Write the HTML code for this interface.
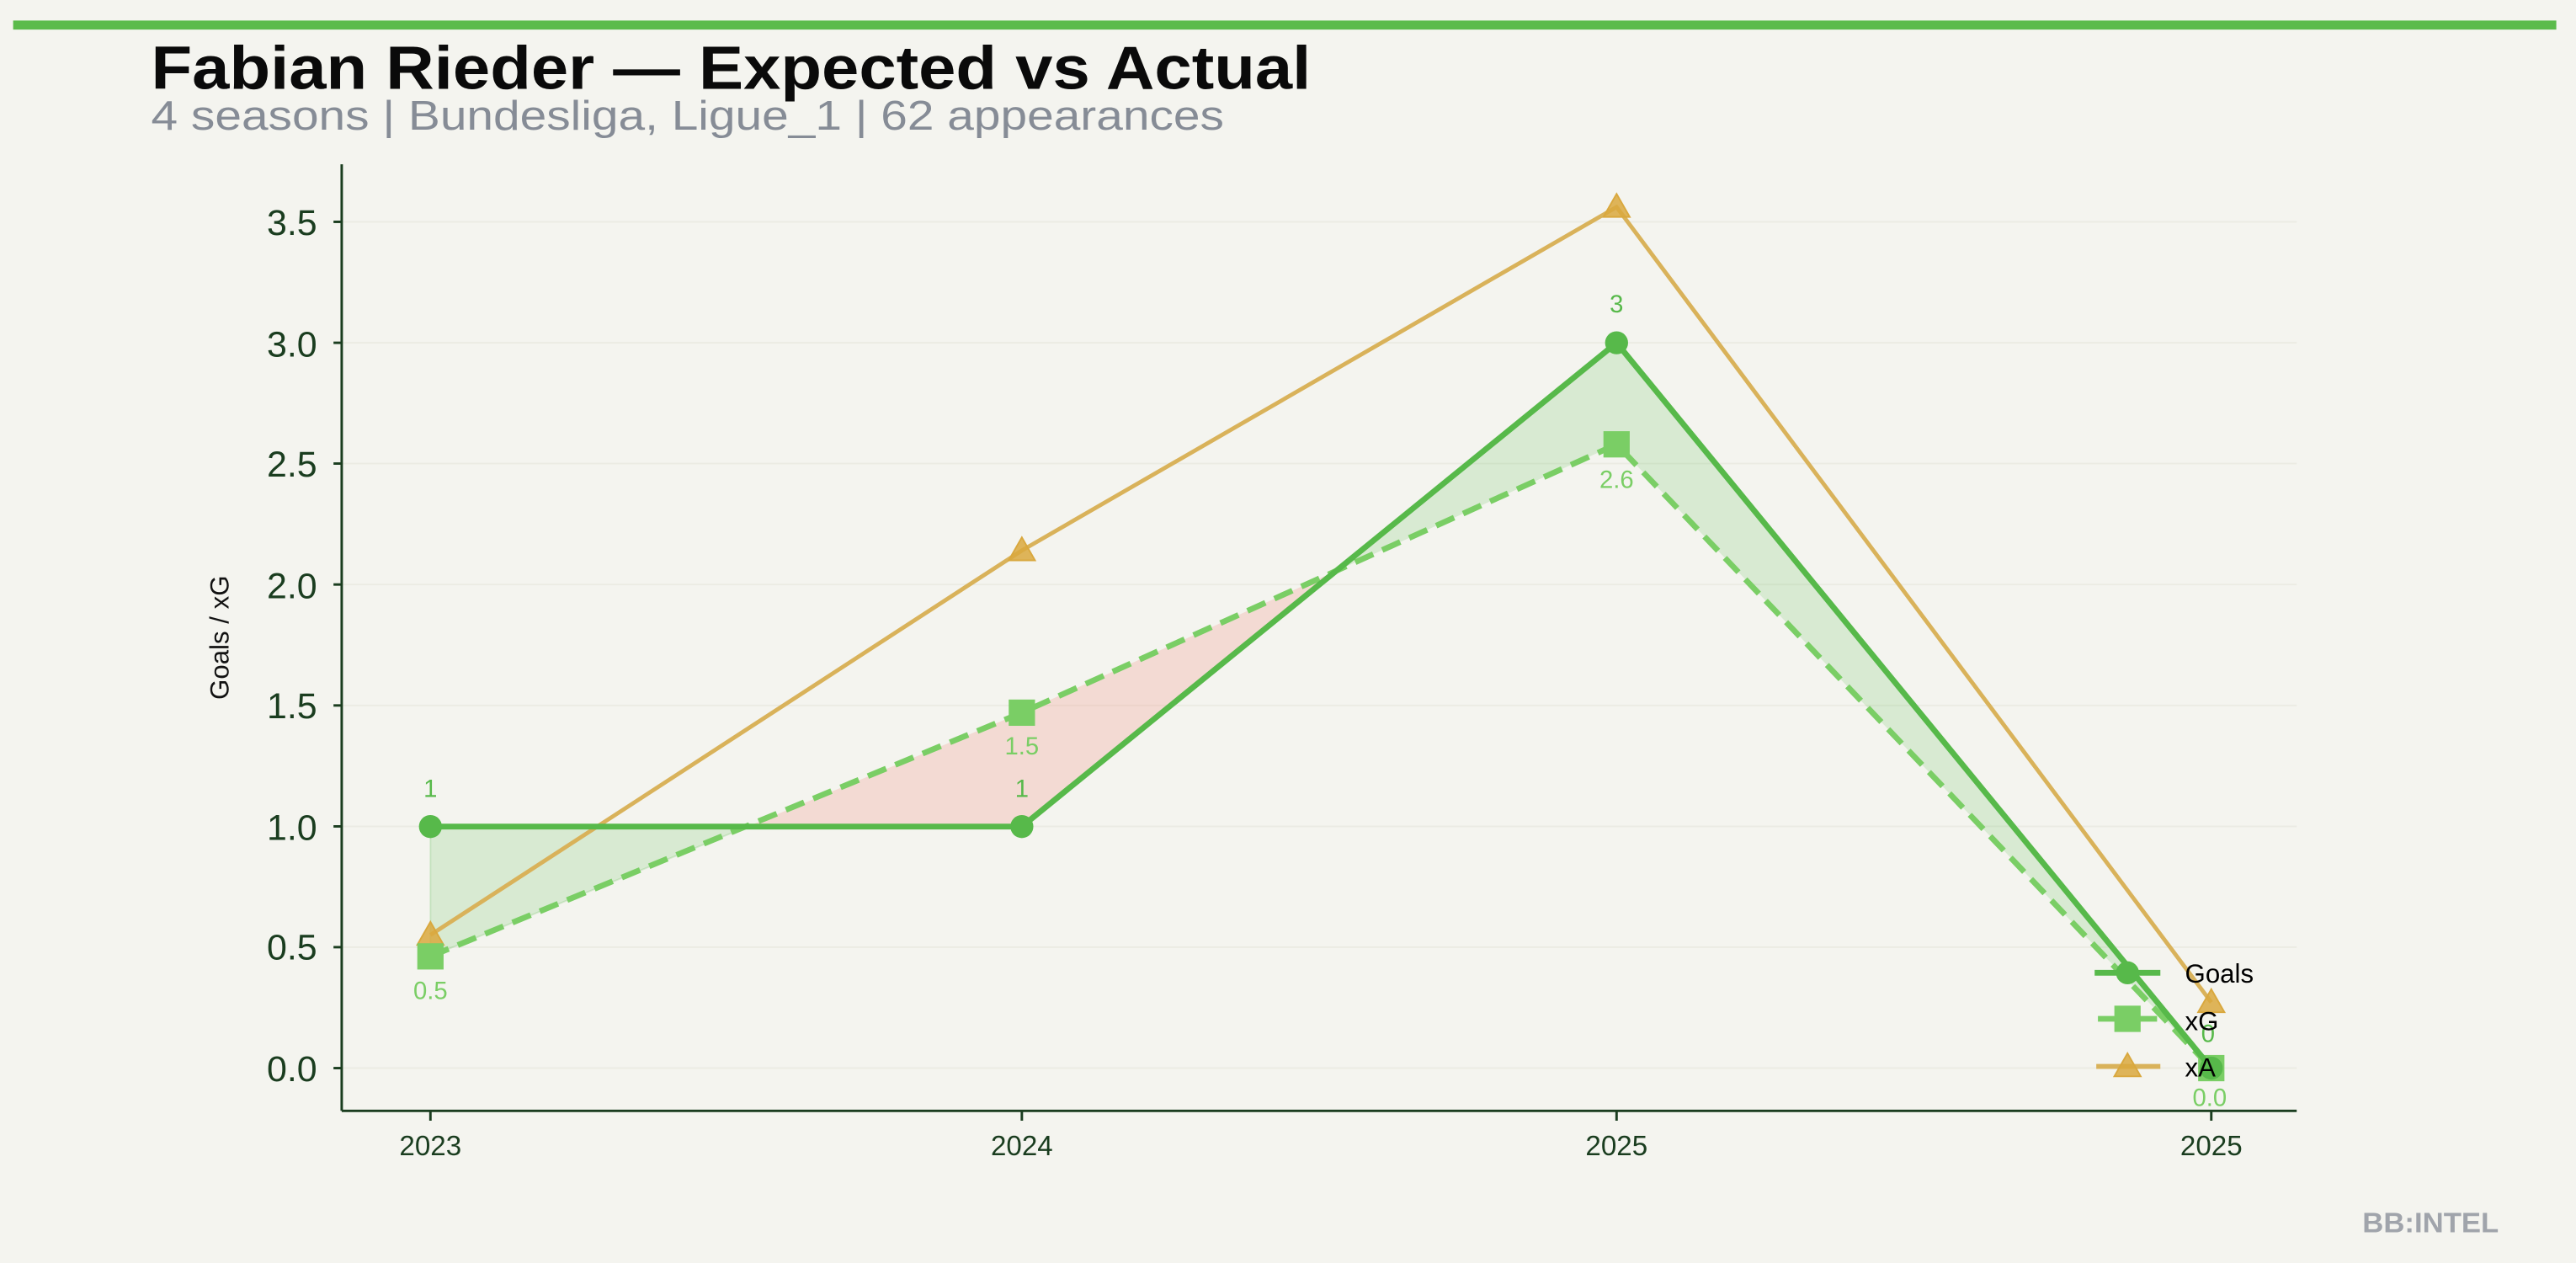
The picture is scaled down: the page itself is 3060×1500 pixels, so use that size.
<!DOCTYPE html>
<html><head><meta charset="utf-8"><style>
html,body{margin:0;padding:0;background:#f4f4ef;}
svg{display:block;}
</style></head><body>
<svg width="3060" height="1500" viewBox="0 0 1568 768.6" preserveAspectRatio="none" xmlns="http://www.w3.org/2000/svg" font-family="Liberation Sans, sans-serif">
<rect x="0" y="0" width="1568" height="768.6" fill="#f4f4ef"/>
<rect x="8" y="12.5" width="1548" height="5.5" fill="#5bbb4b"/>
<text x="92" y="54" font-size="37" font-weight="bold" fill="#0a0a0a" textLength="706" lengthAdjust="spacingAndGlyphs">Fabian Rieder — Expected vs Actual</text>
<text x="92" y="79" font-size="25" fill="#868c96" textLength="653" lengthAdjust="spacingAndGlyphs">4 seasons | Bundesliga, Ligue_1 | 62 appearances</text>
<!-- gridlines -->
<g stroke="#ebebe3" stroke-width="1">
<line x1="208" x2="1398" y1="650" y2="650"/><line x1="208" x2="1398" y1="576.4" y2="576.4"/>
<line x1="208" x2="1398" y1="502.9" y2="502.9"/><line x1="208" x2="1398" y1="429.3" y2="429.3"/>
<line x1="208" x2="1398" y1="355.7" y2="355.7"/><line x1="208" x2="1398" y1="282.1" y2="282.1"/>
<line x1="208" x2="1398" y1="208.6" y2="208.6"/><line x1="208" x2="1398" y1="135" y2="135"/>
</g>
<!-- axes -->
<g stroke="#1a3d1f" stroke-width="1.5">
<line x1="208" y1="100" x2="208" y2="676"/><line x1="208" y1="676" x2="1398" y2="676"/>
<line x1="203" x2="208" y1="650" y2="650"/><line x1="203" x2="208" y1="576.4" y2="576.4"/>
<line x1="203" x2="208" y1="502.9" y2="502.9"/><line x1="203" x2="208" y1="429.3" y2="429.3"/>
<line x1="203" x2="208" y1="355.7" y2="355.7"/><line x1="203" x2="208" y1="282.1" y2="282.1"/>
<line x1="203" x2="208" y1="208.6" y2="208.6"/><line x1="203" x2="208" y1="135" y2="135"/>
<line x1="262" x2="262" y1="676" y2="682"/><line x1="622" x2="622" y1="676" y2="682"/>
<line x1="984" x2="984" y1="676" y2="682"/><line x1="1346" x2="1346" y1="676" y2="682"/>
</g>
<g font-size="22" fill="#1a3d1f" text-anchor="end">
<text x="193" y="658">0.0</text><text x="193" y="584">0.5</text><text x="193" y="511">1.0</text>
<text x="193" y="437">1.5</text><text x="193" y="364">2.0</text><text x="193" y="290">2.5</text>
<text x="193" y="217">3.0</text><text x="193" y="143">3.5</text>
</g>
<g font-size="17" fill="#1a3d1f" text-anchor="middle">
<text x="262" y="703">2023</text><text x="622" y="703">2024</text><text x="984" y="703">2025</text><text x="1346" y="703">2025</text>
</g>
<text transform="translate(139,388) rotate(-90)" font-size="16" fill="#111" text-anchor="middle">Goals / xG</text>
<!-- fills -->
<polygon points="262,503 455,503 262,582" fill="#5bbb4b" fill-opacity="0.18" stroke="#5bbb4b" stroke-opacity="0.2"/>
<polygon points="455,503 622,503 813,347.6 622,433.7" fill="#f08a80" fill-opacity="0.25"/>
<polygon points="813,347.6 984,208.6 1346,650 984,270.4" fill="#5bbb4b" fill-opacity="0.18"/>
<!-- xA -->
<polyline points="262,569 622,335 984,126 1346,610" fill="none" stroke="#d9b25a" stroke-width="2.5"/>
<g fill="#d9a83e" fill-opacity="0.85" stroke="#d9a83e">
<polygon points="262,561 270,575 254,575"/><polygon points="622,327 630,341 614,341"/>
<polygon points="984,118 992,132 976,132"/><polygon points="1346,602 1354,616 1338,616"/>
</g>
<!-- xG -->
<polyline points="262,582 622,433.7 984,270.4 1346,650" fill="none" stroke="#7ace65" stroke-width="3.5" stroke-dasharray="12,6"/>
<g fill="#7ace65">
<rect x="254" y="574" width="16" height="16"/><rect x="614" y="425.7" width="16" height="16"/>
<rect x="976" y="262.4" width="16" height="16"/><rect x="1338" y="642" width="16" height="16"/>
</g>
<!-- goals -->
<polyline points="262,503 622,503 984,208.6 1346,650" fill="none" stroke="#57b94a" stroke-width="3.5"/>
<g fill="#57b94a">
<circle cx="262" cy="503" r="7"/><circle cx="622" cy="503" r="7"/><circle cx="984" cy="208.6" r="7"/><circle cx="1346" cy="650" r="7"/>
</g>
<!-- annotations -->
<g font-size="15" fill="#57b94a" text-anchor="middle">
<text x="262" y="485">1</text><text x="622" y="485">1</text><text x="984" y="190">3</text><text x="1344" y="634">0</text>
</g>
<g font-size="15" fill="#7ace65" text-anchor="middle">
<text x="262" y="608">0.5</text><text x="622" y="459">1.5</text><text x="984" y="297">2.6</text><text x="1345" y="673">0.0</text>
</g>
<!-- legend -->
<line x1="1275" x2="1315" y1="592" y2="592" stroke="#57b94a" stroke-width="3.5"/>
<circle cx="1295" cy="592" r="7" fill="#57b94a"/>
<line x1="1277" x2="1313" y1="620" y2="620" stroke="#7ace65" stroke-width="3.5"/>
<rect x="1287" y="612" width="16" height="16" fill="#7ace65"/>
<line x1="1276" x2="1315" y1="649" y2="649" stroke="#d9b25a" stroke-width="3"/>
<polygon points="1295,641 1303,655 1287,655" fill="#d9a83e" fill-opacity="0.85" stroke="#d9a83e"/>
<g font-size="16" fill="#000">
<text x="1330" y="598">Goals</text><text x="1330" y="627">xG</text><text x="1330" y="655">xA</text>
</g>
<text x="1438" y="750" font-size="17" font-weight="bold" fill="#a0a4ab" textLength="83" lengthAdjust="spacingAndGlyphs">BB:INTEL</text>
</svg>
</body></html>
